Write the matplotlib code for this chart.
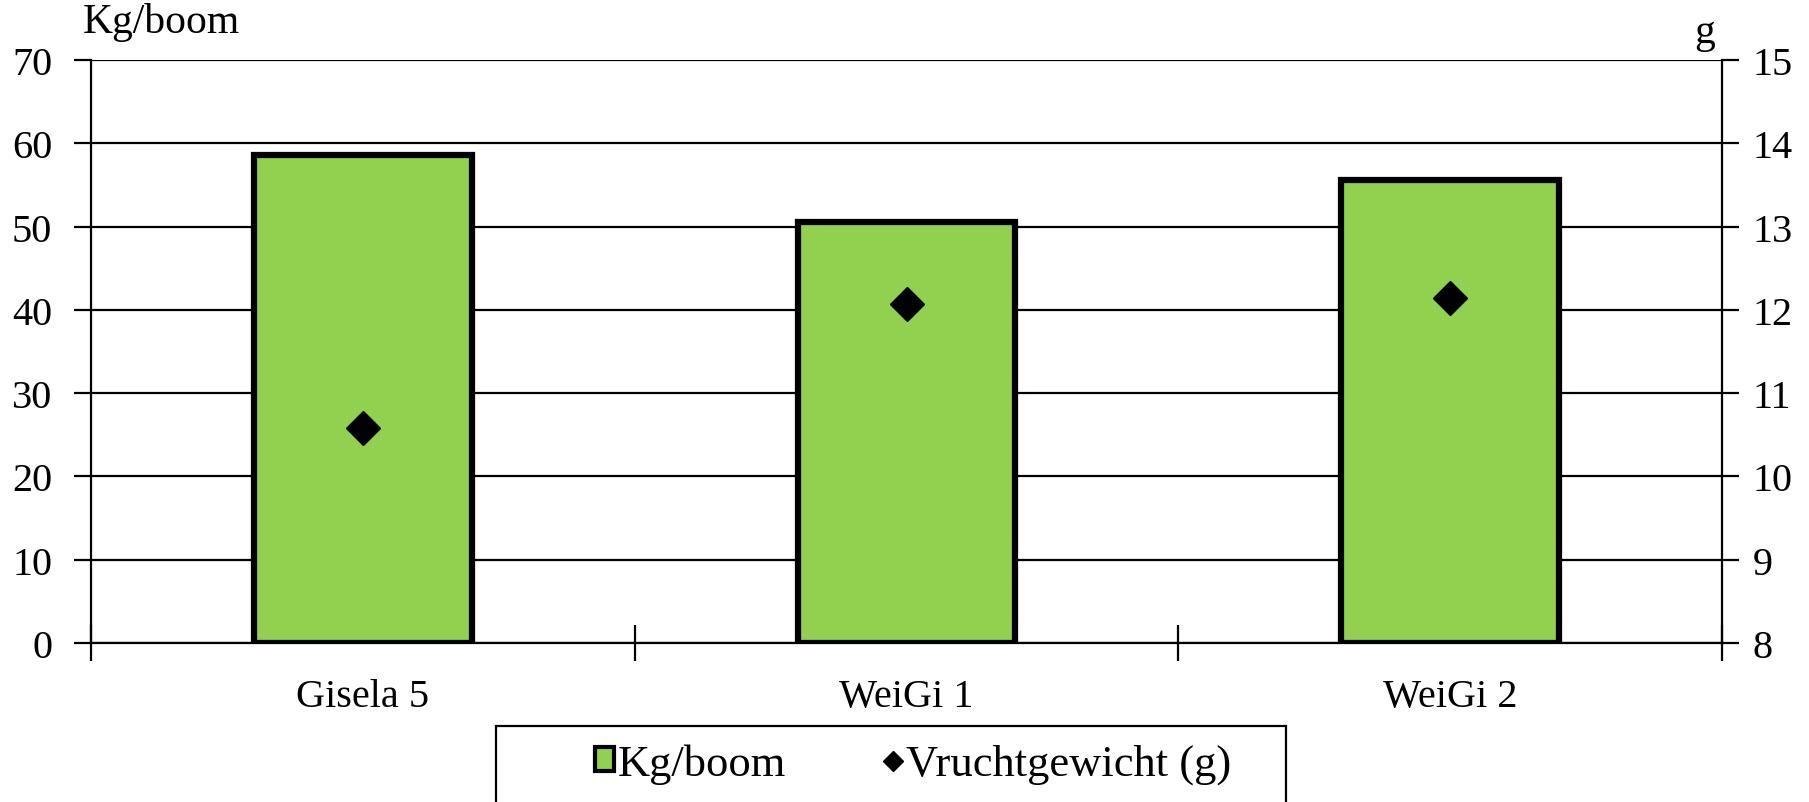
import numpy as np
import matplotlib
matplotlib.use("Agg")
import matplotlib.pyplot as plt
from matplotlib.lines import Line2D
from matplotlib.patches import Patch, Rectangle

# data
categories = ["Gisela 5", "WeiGi 1", "WeiGi 2"]
kg_per_tree = [58.6, 50.6, 55.6]
fruit_weight = [10.58, 12.07, 12.14]

plt.rcParams['font.family'] = ['Liberation Serif', 'DejaVu Serif']
fsize = 29

W, H = 1809, 803
fig = plt.figure(figsize=(W/100, H/100), dpi=100)
ax = fig.add_axes([91/W, 1-644/H, (1722-91)/W, (644-61)/H])
ax2 = ax.twinx()

x = np.arange(len(categories))
ax.bar(x, kg_per_tree, width=0.4, color='#92d050', edgecolor='black', linewidth=4.5, zorder=3)
ax.set_ylim(0, 70)
ax.set_xlim(-0.5, 2.5)
ax.set_yticks(np.arange(0, 71, 10))
ax.yaxis.grid(True, color='black', linewidth=1.6, zorder=0)
ax.set_axisbelow(True)

ax2.plot(x, fruit_weight, linestyle='none', marker='D', markersize=17, color='black', zorder=5)
ax2.set_ylim(8, 15)
ax2.set_yticks(np.arange(8, 16, 1))

# x ticks sit on the category boundaries, labels in between
ax.set_xticks([-0.5, 0.5, 1.5, 2.5])
ax.set_xticklabels([])
ax.set_xticks(x, minor=True)
ax.set_xticklabels(categories, minor=True, fontsize=fsize)
ax.tick_params(axis='x', which='major', direction='inout', length=26, width=1.6)
ax.tick_params(axis='x', which='minor', length=0, pad=25)
ax.tick_params(axis='y', direction='out', length=12, width=1.6, pad=16, labelsize=fsize)
ax2.tick_params(axis='y', direction='out', length=12, width=1.6, pad=10, labelsize=fsize)

for a in (ax, ax2):
    for s in a.spines.values():
        s.set_linewidth(1.6)
    a.spines['top'].set_visible(False)
ax.spines['right'].set_visible(False)
ax2.spines['left'].set_visible(False)
ax2.spines['bottom'].set_visible(False)

fig.text(83/W, 1-23/H, "Kg/boom", fontsize=30, va='center', ha='left')
fig.text(1705/W, 1-33/H, "g", fontsize=30, va='center', ha='center')

# legend frame (runs off the bottom of the image)
fig.patches.append(Rectangle((496/W, -0.05), (1286-496)/W, 0.05+(1-727/H),
                             transform=fig.transFigure, facecolor='white',
                             edgecolor='black', linewidth=1.6))

handles = [Patch(facecolor='#92d050', edgecolor='black', linewidth=3),
           Line2D([], [], linestyle='none', marker='D', markersize=10, color='black')]
leg = fig.legend(handles, ["Kg/boom", "Vruchtgewicht (g)"], ncol=2, fontsize=32,
                 loc='center left', bbox_to_anchor=(595/W, 1-765/H),
                 frameon=False, handlelength=0.43, handleheight=0.43, handletextpad=0.08,
                 columnspacing=2.2, borderpad=0, borderaxespad=0)

fig.savefig("out.png", dpi=100)
